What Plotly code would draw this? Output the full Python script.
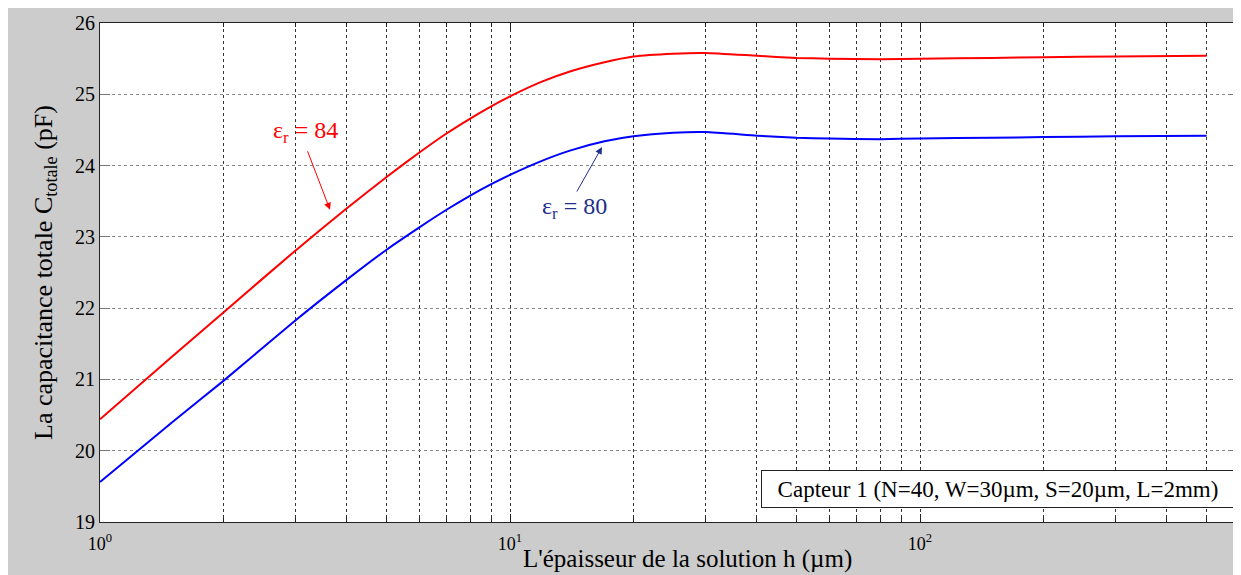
import plotly.graph_objects as go

# epaisseur de la solution h (um)
h = [1, 1.5, 2, 3, 4, 5, 6, 7, 8, 9, 10, 12, 14, 17, 20, 25, 30, 40, 50, 60, 80,
     100, 150, 200, 300, 500]
# capacitance totale (pF)
c_er84 = [20.44, 21.32, 21.94, 22.81, 23.40, 23.84, 24.18, 24.45, 24.66, 24.83, 24.97,
          25.18, 25.32, 25.45, 25.53, 25.57, 25.58, 25.54, 25.51, 25.50, 25.49,
          25.50, 25.51, 25.52, 25.53, 25.54]
c_er80 = [19.56, 20.40, 20.98, 21.83, 22.40, 22.82, 23.13, 23.38, 23.58, 23.74, 23.87,
          24.07, 24.21, 24.34, 24.41, 24.46, 24.47, 24.42, 24.39, 24.38, 24.37,
          24.38, 24.39, 24.40, 24.41, 24.42]

major_x = [1, 10, 100]
major_x_text = ['10<sup>0</sup>', '10<sup>1</sup>', '10<sup>2</sup>']
minor_x = [2, 3, 4, 5, 6, 7, 8, 9, 20, 30, 40, 50, 60, 70, 80, 90,
           200, 300, 400, 500, 600]
y_ticks = [19, 20, 21, 22, 23, 24, 25, 26]

# page is 1241x575, the figure starts 8px in (body margin)
OFF = 8
W, H = 1241 - OFF, 575 - OFF
L, R, T, B = 100 - OFF, 2, 23 - OFF, 53
pw, ph = W - L - R, H - T - B


def px(x):
    # page pixel -> paper x
    return (x - OFF - L) / pw


def py(y):
    # page pixel -> paper y
    return (H - B - (y - OFF)) / ph


font = 'Liberation Serif'

fig = go.Figure()
fig.add_trace(go.Scatter(x=h, y=c_er84, mode='lines',
                         line=dict(color='#ff0000', width=2, shape='spline', smoothing=0.5)))
fig.add_trace(go.Scatter(x=h, y=c_er80, mode='lines',
                         line=dict(color='#0000ff', width=2, shape='spline', smoothing=0.5)))

annotations = [
    # arrows
    dict(x=0.561, y=23.38, xref='x', yref='y', text='', showarrow=True, ax=-23, ay=-60,
         arrowhead=2, arrowsize=1.4, arrowwidth=1, arrowcolor='#ff0000'),
    dict(x=1.2244, y=24.26, xref='x', yref='y', text='', showarrow=True, ax=-26, ay=46,
         arrowhead=2, arrowsize=1.4, arrowwidth=1, arrowcolor='#1f2f8a'),
    # labels
    dict(x=0.5, y=24.47, xref='x', yref='y', text='ε<sub>r</sub> = 84', showarrow=False,
         xanchor='center', yanchor='middle',
         font=dict(family=font, size=24, color='#ff0000')),
    dict(x=1.1585, y=23.41, xref='x', yref='y', text='ε<sub>r</sub> = 80', showarrow=False,
         xanchor='center', yanchor='middle',
         font=dict(family=font, size=24, color='#1f2f8a')),
    # legend box
    dict(x=px(998), y=py(489), xref='paper', yref='paper', showarrow=False,
         xanchor='center', yanchor='middle',
         text='Capteur 1 (N=40, W=30µm, S=20µm, L=2mm)', width=470, height=34,
         bgcolor='white', bordercolor='#222', borderwidth=1, borderpad=1,
         font=dict(family=font, size=23, color='black')),
    # axis titles
    dict(x=px(688), y=py(559), xref='paper', yref='paper', showarrow=False,
         xanchor='center', yanchor='middle',
         text="L'épaisseur de la solution h (µm)", font=dict(family=font, size=25, color='black')),
    dict(x=px(45), y=py(273), xref='paper', yref='paper', showarrow=False, textangle=-90,
         xanchor='center', yanchor='middle',
         text='La capacitance totale C<sub>totale</sub> (pF)', font=dict(family=font, size=26, color='black')),
]

fig.update_layout(
    width=W, height=H,
    margin=dict(l=L, r=R, t=T, b=B),
    paper_bgcolor='#cccccc',
    plot_bgcolor='white',
    showlegend=False,
    font=dict(family=font, size=20, color='black'),
    annotations=annotations,
    xaxis=dict(
        type='log', range=[0, 2.778],
        tickmode='array', tickvals=major_x, ticktext=major_x_text,
        tickfont=dict(size=18), ticklabelstandoff=5,
        ticks='inside', ticklen=8, tickcolor='#222',
        showline=True, linecolor='#222', linewidth=1, mirror='ticks',
        showgrid=True, gridcolor='#333', griddash='3px,3px', gridwidth=1,
        minor=dict(tickvals=minor_x, showgrid=True, gridcolor='#333', griddash='3px,3px',
                   gridwidth=1, ticks='inside', ticklen=4, tickcolor='#222'),
        zeroline=False,
    ),
    yaxis=dict(
        range=[19, 26], tickvals=y_ticks,
        tickfont=dict(size=20),
        ticks='inside', ticklen=10, tickcolor='#777',
        showline=True, linecolor='#222', linewidth=1, mirror='ticks',
        showgrid=True, gridcolor='#888', griddash='3px,3px', gridwidth=1,
        zeroline=False,
    ),
)

fig.write_html('out.html')
